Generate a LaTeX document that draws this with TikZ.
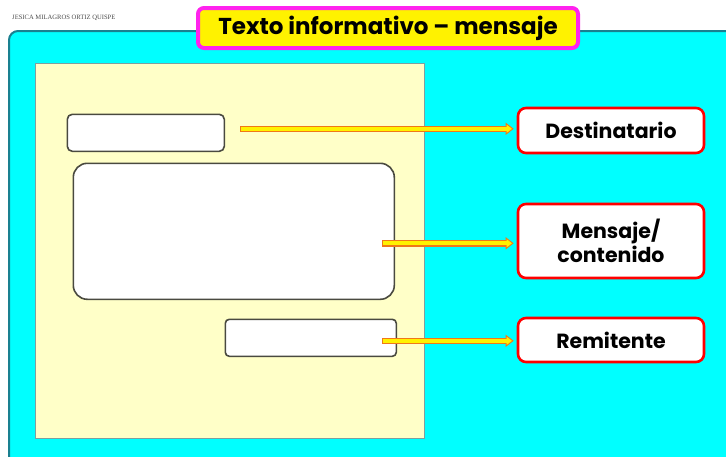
\documentclass[tikz,border=0pt]{standalone}
\usepackage{fontspec}
\setmainfont{Poppins}
\newfontfamily\authorfont{Liberation Serif}
\usetikzlibrary{arrows.meta,calc}
\definecolor{cyanbg}{HTML}{00FFFF}
\definecolor{panelline}{HTML}{1A8090}
\definecolor{pagefill}{HTML}{FFFFC8}
\definecolor{pageline}{HTML}{7F9F9F}
\definecolor{boxline}{HTML}{4A4A40}
\definecolor{arrline}{HTML}{F07818}
\definecolor{titlemag}{HTML}{FF22EE}
\tikzset{
  x=1pt, y=-1pt,
  blank/.style={draw=boxline, line width=1.6pt, fill=white, rounded corners=#1, inner sep=0pt, anchor=north west},
  target/.style={draw=red, line width=2.6pt, fill=white, rounded corners=8pt, minimum width=186pt, inner sep=2pt,
                 font=\fontsize{20.5}{24}\selectfont\bfseries, align=center, text=black},
  arrout/.style={draw=arrline, line width=6.5pt, -{Triangle[length=8pt,width=12pt,line width=0.9pt,fill=yellow]}},
  arrin/.style={draw=yellow, line width=4.2pt, shorten >=7pt},
}
\begin{document}
\begin{tikzpicture}
\useasboundingbox (0,0) rectangle (726,456);
\fill[white] (0,0) rectangle (726,456);
% cyan panel
\path[draw=panelline, line width=2pt, fill=cyanbg, rounded corners=9pt]
  (740,31) -- (9,31) -- (9,470) -- (740,470);
% author
\node[anchor=west, inner sep=0pt, font=\authorfont\fontsize{6.6}{8}\selectfont, text=black!70] (author) at (12,18) {JESICA MILAGROS ORTIZ QUISPE};
% title
\node[draw=titlemag, line width=4pt, fill=yellow, rounded corners=6pt, minimum width=380pt, minimum height=40pt,
      font=\fontsize{23}{27}\selectfont\bfseries] (title) at (388,28) {Texto informativo – mensaje};
% page
\node[draw=pageline, line width=1.5pt, fill=pagefill, minimum width=389pt, minimum height=375pt, anchor=north west, inner sep=0pt] (page) at (34.5,62.5) {};
% blank boxes
\node[blank=5pt, minimum width=157pt, minimum height=37pt] (b1) at (66.5,113.5) {};
\node[blank=14pt, minimum width=321pt, minimum height=136pt] (b2) at (72.5,162.5) {};
\node[blank=4pt, minimum width=171pt, minimum height=37pt] (b3) at (224.5,318.5) {};
% targets
\node[target, minimum height=45pt] (t1) at (611,130.5) {Destinatario};
\node[target, minimum height=74pt] (t2) at (611,241) {Mensaje/\\contenido};
\node[target, minimum height=44pt] (t3) at (611,340) {Remitente};
% arrow starts
\coordinate (s1) at ($(b1.east)+(15,-4)$);
\coordinate (s2) at ($(b2.east)+(-13,12)$);
\coordinate (s3) at ($(b3.east)+(-15,3)$);
% arrows
\foreach \s/\t in {s1/t1,s2/t2,s3/t3}{
  \draw[arrout] (\s) -- ($(\s -| \t.west)+(-3,0)$);
  \draw[arrin] ($(\s)+(1,0)$) -- ($(\s -| \t.west)+(-3,0)$);
}
\end{tikzpicture}
\end{document}
